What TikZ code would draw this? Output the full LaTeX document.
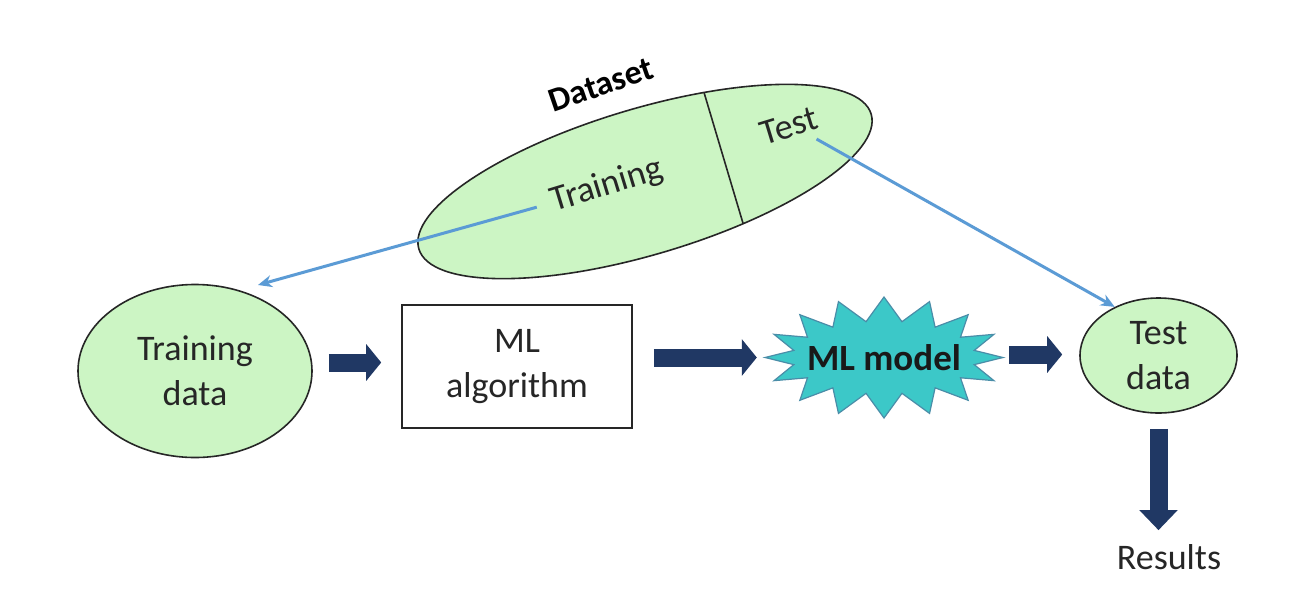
\documentclass[tikz,border=0pt]{standalone}
\usepackage{fontspec}
\setmainfont{Carlito}
\usetikzlibrary{shapes.geometric,arrows.meta,calc}
\definecolor{lgreen}{HTML}{CCF5C4}
\definecolor{navy}{HTML}{203864}
\definecolor{lblue}{HTML}{5B9BD5}
\definecolor{cyanfill}{HTML}{3CC8C8}
\definecolor{cyanline}{HTML}{4A8DA8}
\definecolor{txtcol}{HTML}{262626}
\begin{document}
\begin{tikzpicture}[x=1pt,y=1pt,
  txt/.style={font=\fontsize{36}{45}\selectfont, text=txtcol, align=center},
  greenell/.style={ellipse, draw=txtcol, line width=1.6pt, fill=lgreen, inner sep=0pt},
  blk/.style={draw=navy, line width=18pt, -{Triangle[width=36pt,length=15pt]}},
  blueln/.style={draw=lblue, line width=3pt, -{Stealth[length=14pt,width=12pt]}}]
\useasboundingbox[fill=white] (0,0) rectangle (1306,-603);
% dataset ellipse
\node[greenell, minimum width=472pt, minimum height=146pt, rotate=16.6] (dataset) at (645,-181.5) {};
\begin{scope}[shift={(dataset.center)}, rotate=16.6]
  \draw[line width=1.6pt, txtcol] (82,-68.4) -- (82,68.4);
\end{scope}
\node[txt, rotate=17] (trainlbl) at (607,-186) {Training};
\node[txt, rotate=17] (testlbl) at (789,-126) {Test};
\node[txt, font=\fontsize{34}{40}\selectfont\bfseries, text=black, rotate=19] (dslbl) at (601,-85) {Dataset};
% main row
\node[greenell, txt, minimum width=234pt, minimum height=173pt] (trdata) at (195,-371) {Training\\data};
\node[draw=txtcol, line width=1.6pt, minimum width=230pt, minimum height=123pt, txt] (algo) at (517,-366.5) {ML\\algorithm};
\coordinate (mc) at (884,-357.5);
\begin{scope}[shift={(mc)}]
  \filldraw[fill=cyanfill, draw=cyanline, line width=1.2pt]
    plot[domain=0:31, samples=32, variable=\k]
    ({(119-27*mod(\k,2))*cos(\k*11.25)}, {(60.5-24*mod(\k,2))*sin(\k*11.25)}) -- cycle;
\end{scope}
\node[ellipse, inner sep=0pt, minimum width=238pt, minimum height=121pt,
      font=\fontsize{37}{44}\selectfont\bfseries, text=black!90] (model) at (mc) {ML model};
\node[greenell, txt, minimum width=157pt, minimum height=115pt] (tedata) at (1158.5,-355.5) {Test\\data};
\node[txt, inner sep=0pt] (res) at (1169,-557) {Results};
% blue connectors
\coordinate (trtip) at (258,-285);
\draw[blueln, shorten <=12pt] (trainlbl.west) -- (trtip);
\draw[blueln] ($(testlbl.south east)+(-8,-8)$) -- (tedata.132);
% block arrows
\draw[blk, shorten <=16pt, shorten >=20pt] ([yshift=4pt]algo.west -| trdata.east) -- ([yshift=4pt]algo.west);
\draw[blk, shorten <=21pt, shorten >=8pt] (algo.east |- model.west) -- (model.west);
\draw[blk, shorten <=6pt, shorten >=17pt] ([yshift=3pt]model.east) -- ([yshift=3pt]tedata.west |- model.east);
\draw[blk, -{Triangle[width=37pt,length=20pt]}, shorten <=15pt, shorten >=14pt] (tedata.south) -- (tedata.south |- res.north);
\end{tikzpicture}
\end{document}
